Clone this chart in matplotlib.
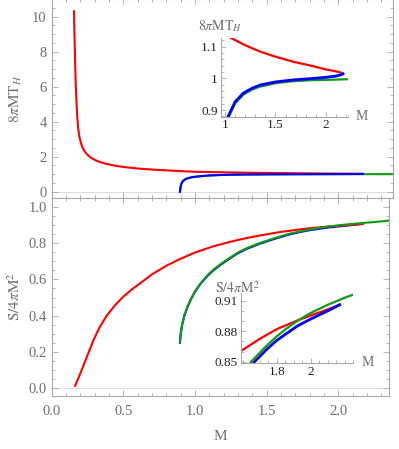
import numpy as np
import matplotlib.pyplot as plt
from matplotlib.ticker import MultipleLocator

plt.rcParams['font.family'] = ['Liberation Serif', 'DejaVu Serif']
plt.rcParams['mathtext.fontset'] = 'stix'

# ---- data ----
# 8 pi M T_H
red_T_M = [0.156, 0.158, 0.161, 0.164, 0.168, 0.172, 0.178, 0.185, 0.193, 0.203, 0.215, 0.23,
           0.25, 0.275, 0.3, 0.34, 0.384, 0.45, 0.52, 0.6, 0.7, 0.8, 0.9, 1.0, 1.06, 1.2, 1.35,
           1.5, 1.68, 1.85, 2.0, 2.1, 2.14, 2.17]
red_T = [10.3, 9.3, 8.2, 7.2, 6.1, 5.3, 4.3, 3.6, 3.15, 2.8, 2.52, 2.3,
         2.1, 1.93, 1.82, 1.68, 1.58, 1.47, 1.39, 1.32, 1.26, 1.215, 1.172, 1.137, 1.127, 1.104,
         1.084, 1.068, 1.052, 1.04, 1.028, 1.022, 1.019, 1.014]
blue_T_M = [0.895, 0.9, 0.905, 0.915, 0.93, 0.95, 0.98, 1.03, 1.1, 1.18, 1.27, 1.35,
            1.51, 1.68, 1.85, 2.0, 2.1, 2.15, 2.17]
blue_T = [0.0, 0.3, 0.45, 0.6, 0.7, 0.77, 0.83, 0.879, 0.926, 0.953, 0.969, 0.979,
          0.989, 0.995, 0.999, 1.003, 1.007, 1.011, 1.014]
green_T_M = [0.895, 0.9, 0.905, 0.915, 0.93, 0.95, 0.98, 1.03, 1.1, 1.18, 1.27, 1.35,
             1.51, 1.68, 1.85, 2.0, 2.2, 2.38]
green_T = [0.0, 0.29, 0.44, 0.59, 0.69, 0.76, 0.82, 0.874, 0.921, 0.948, 0.965, 0.974,
           0.985, 0.991, 0.994, 0.995, 0.997, 0.998]

# S / 4 pi M^2
red_S_M = [0.163, 0.175, 0.19, 0.205, 0.22, 0.24, 0.26, 0.29, 0.33, 0.384, 0.44, 0.5, 0.56,
           0.616, 0.7, 0.8, 0.9, 1.0, 1.13, 1.25, 1.36, 1.48, 1.59, 1.7, 1.8, 1.92, 2.0, 2.1, 2.17]
red_S = [0.013, 0.035, 0.063, 0.092, 0.122, 0.162, 0.202, 0.262, 0.33, 0.40, 0.456, 0.505, 0.545,
         0.578, 0.628, 0.675, 0.714, 0.748, 0.783, 0.808, 0.828, 0.846, 0.8605, 0.8725, 0.882,
         0.8905, 0.8955, 0.9015, 0.906]
green_S_M = [0.895, 0.9, 0.91, 0.925, 0.945, 0.97, 1.0, 1.04, 1.09, 1.13, 1.18, 1.244, 1.3,
             1.36, 1.45, 1.55, 1.65, 1.73, 1.8, 1.86, 1.92, 2.0, 2.1, 2.2, 2.25, 2.3, 2.36]
green_S = [0.251, 0.3, 0.35, 0.4, 0.445, 0.49, 0.535, 0.58, 0.625, 0.655, 0.685, 0.72, 0.748,
           0.772, 0.8, 0.826, 0.85, 0.864, 0.875, 0.883, 0.89, 0.898, 0.906, 0.913, 0.916, 0.92, 0.925]
blue_S_M = [0.895, 0.9, 0.91, 0.925, 0.945, 0.97, 1.0, 1.04, 1.09, 1.13, 1.18, 1.244, 1.3,
            1.36, 1.45, 1.55, 1.67, 1.74, 1.8, 1.86, 1.92, 2.0, 2.1, 2.17]
blue_S = [0.25, 0.298, 0.348, 0.398, 0.443, 0.487, 0.532, 0.577, 0.621, 0.651, 0.681, 0.716, 0.744,
          0.768, 0.796, 0.822, 0.85, 0.862, 0.871, 0.878, 0.885, 0.892, 0.9, 0.906]

RED = '#ff0000'
BLUE = '#0000ff'
GREEN = '#129a12'
FRAME = '#a8a8a8'
LABEL = '#6e6e6e'

W, H = 399, 449
fig = plt.figure(figsize=(W / 100, H / 100), dpi=100)


def px_box(x0, y0, x1, y1):
    # pixel box (top-left origin) -> figure fraction rect
    return [x0 / W, 1 - y1 / H, (x1 - x0) / W, (y1 - y0) / H]


def style_frame(ax):
    for s in ax.spines.values():
        s.set_color(FRAME)
        s.set_linewidth(0.8)
    ax.tick_params(which='both', direction='in', top=True, right=True, color=FRAME,
                   labelcolor=LABEL, labelsize=10.5, width=0.6)
    ax.tick_params(which='major', length=4.5)
    ax.tick_params(which='minor', length=2.5)


def style_inset(ax):
    ax.patch.set_alpha(0)
    for s in ['top', 'right']:
        ax.spines[s].set_visible(False)
    for s in ['left', 'bottom']:
        ax.spines[s].set_color(FRAME)
        ax.spines[s].set_linewidth(0.8)
    ax.tick_params(which='both', direction='in', color=FRAME, labelcolor='#222222',
                   labelsize=9.5, width=0.6, pad=2)
    ax.tick_params(which='major', length=3.5)
    ax.tick_params(which='minor', length=2)


# ---- top panel ----
ax1 = fig.add_axes(px_box(51.7, -1, 393, 198.3))
style_frame(ax1)
ax1.axhline(0, color='#dedede', lw=0.8, zorder=0)
ax1.plot(green_T_M, green_T, color=GREEN, lw=1.5)
ax1.plot(red_T_M, red_T, color=RED, lw=1.5)
ax1.plot(blue_T_M, blue_T, color=BLUE, lw=1.5)
ax1.set_xlim(0, 2.382)
ax1.set_ylim(-0.38, 11.0)
ax1.xaxis.set_major_locator(MultipleLocator(0.5))
ax1.xaxis.set_minor_locator(MultipleLocator(0.1))
ax1.yaxis.set_major_locator(MultipleLocator(2))
ax1.yaxis.set_minor_locator(MultipleLocator(0.5))
ax1.set_xticklabels([])
ax1.set_yticks([0, 2, 4, 6, 8, 10])
ax1.set_yticklabels(['0', '2', '4', '6', '8', '10'])
ax1.set_ylabel(r'$8\pi\mathrm{MT}_H$', color=LABEL, fontsize=11, labelpad=6)

# ---- bottom panel ----
ax2 = fig.add_axes(px_box(51.7, 198.3, 389.3, 395.7))
style_frame(ax2)
ax2.axhline(0, color='#dedede', lw=0.8, zorder=0)
ax2.plot(blue_S_M, blue_S, color=BLUE, lw=1.5)
ax2.plot(red_S_M, red_S, color=RED, lw=1.5)
ax2.plot(green_S_M, green_S, color=GREEN, lw=1.5)
ax2.set_xlim(0, 2.356)
ax2.set_ylim(-0.041, 1.047)
ax2.xaxis.set_major_locator(MultipleLocator(0.5))
ax2.xaxis.set_minor_locator(MultipleLocator(0.1))
ax2.yaxis.set_major_locator(MultipleLocator(0.2))
ax2.yaxis.set_minor_locator(MultipleLocator(0.05))
ax2.xaxis.set_major_formatter(plt.FormatStrFormatter('%.1f'))
ax2.yaxis.set_major_formatter(plt.FormatStrFormatter('%.1f'))
ax2.tick_params(axis='x', pad=7)
ax2.set_xlabel('M', color=LABEL, fontsize=11, labelpad=8)
ax2.set_ylabel(r'$\mathrm{S}/4\pi\mathrm{M}^2$', color=LABEL, fontsize=11, labelpad=4)

# ---- inset in top panel ----
in1 = fig.add_axes(px_box(220.7, 38, 348, 116.7))
style_inset(in1)
in1.plot(green_T_M, green_T, color=GREEN, lw=1.6)
in1.plot(red_T_M, red_T, color=RED, lw=1.6)
in1.plot(blue_T_M, blue_T, color=BLUE, lw=2.0)
in1.set_xlim(0.957, 2.22)
in1.set_ylim(0.879, 1.127)
in1.set_xticks([1, 1.5, 2])
in1.set_xticklabels(['1', '1.5', '2'])
in1.set_yticks([0.9, 1.0, 1.1])
in1.set_yticklabels(['0.9', '1', '1.1'])
in1.xaxis.set_minor_locator(MultipleLocator(0.1))
in1.yaxis.set_minor_locator(MultipleLocator(0.02))
in1.text(0.0, 1.05, r'$8\pi\mathrm{MT}_H$', transform=in1.transAxes, ha='center', va='bottom',
         color=LABEL, fontsize=10)
in1.text(1.11, 0.0, 'M', transform=in1.transAxes, ha='center', va='center',
         color=LABEL, fontsize=10)

# ---- inset in bottom panel ----
in2 = fig.add_axes(px_box(240.7, 293.3, 353.3, 363))
style_inset(in2)
in2.plot(red_S_M, red_S, color=RED, lw=1.6)
in2.plot(blue_S_M, blue_S, color=BLUE, lw=2.0)
in2.plot(green_S_M, green_S, color=GREEN, lw=1.6)
in2.set_xlim(1.588, 2.25)
in2.set_ylim(0.8487, 0.9173)
in2.set_xticks([1.8, 2.0])
in2.set_xticklabels(['1.8', '2'])
in2.set_yticks([0.85, 0.88, 0.91])
in2.set_yticklabels(['0.85', '0.88', '0.91'])
in2.xaxis.set_minor_locator(MultipleLocator(0.05))
in2.yaxis.set_minor_locator(MultipleLocator(0.01))
in2.text(-0.03, 1.08, r'$\mathrm{S}/4\pi\mathrm{M}^2$', transform=in2.transAxes, ha='center',
         va='center', color=LABEL, fontsize=10)
in2.text(1.13, 0.0, 'M', transform=in2.transAxes, ha='center', va='center',
         color=LABEL, fontsize=10)

fig.savefig('out.png', dpi=100)
